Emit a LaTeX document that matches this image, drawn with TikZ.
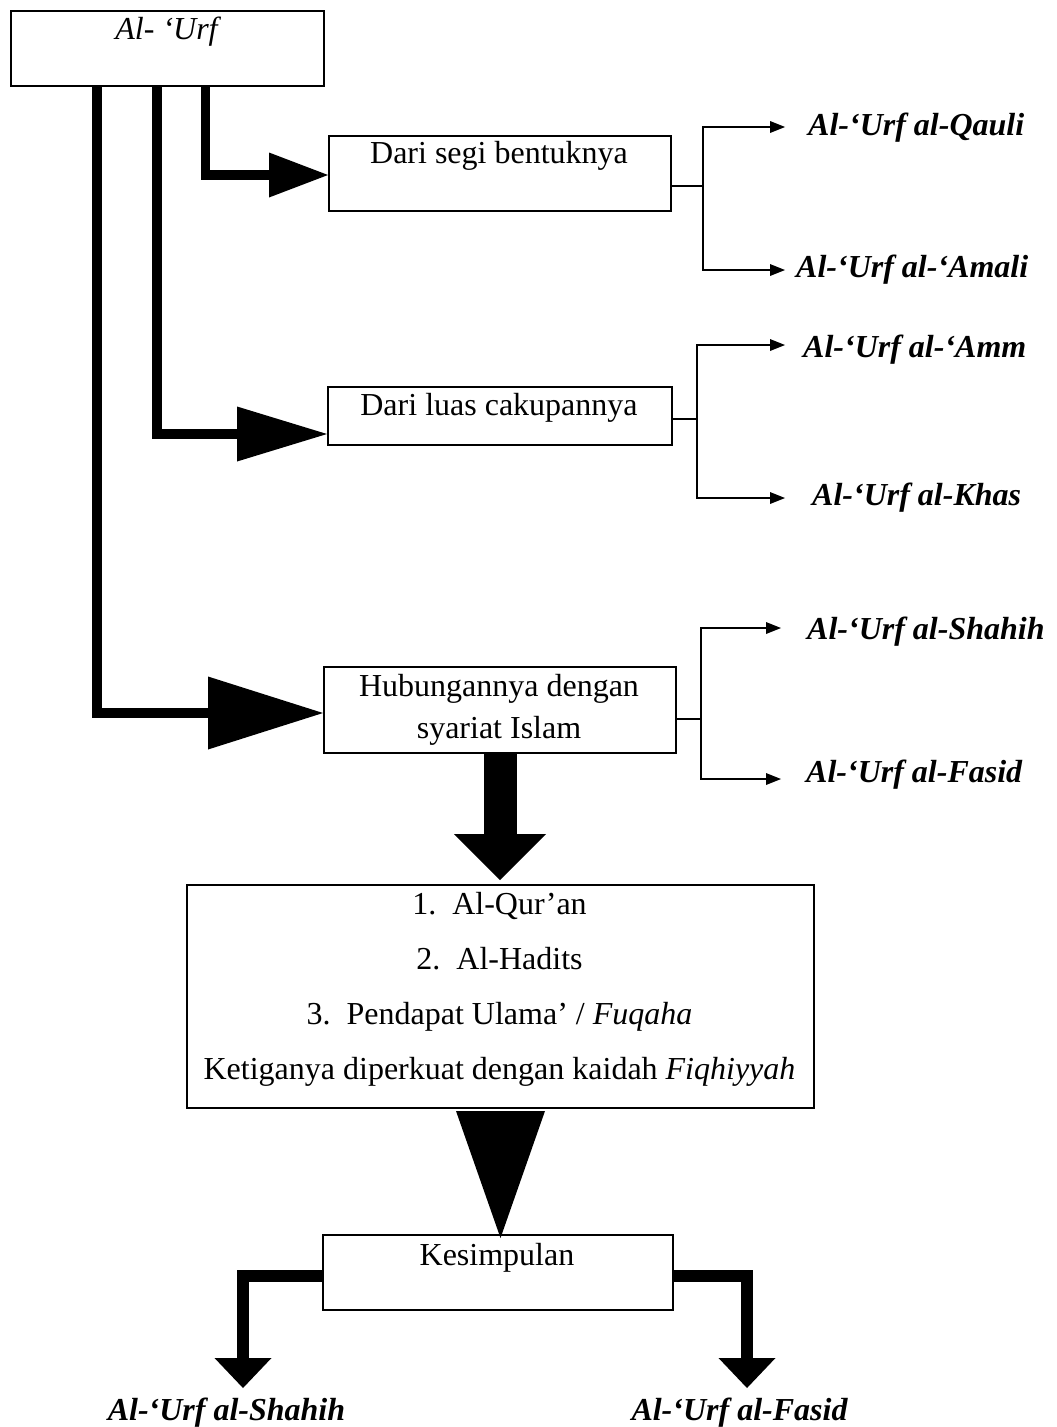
\documentclass[tikz,border=0pt]{standalone}
\usepackage{fontspec}
\setmainfont{Liberation Serif}
\usetikzlibrary{arrows.meta}
\begin{document}
\begin{tikzpicture}[x=1pt,y=-1pt,
  box/.style={draw, line width=2pt, inner sep=0pt, anchor=north west},
  txt/.style={font=\fontsize{32}{38}\selectfont, inner sep=0pt, anchor=base},
  lab/.style={font=\fontsize{32}{38}\selectfont\bfseries\itshape, inner sep=0pt, anchor=base west},
  thinL/.style={line width=2pt},
  bothtips/.style={{Triangle[length=15pt,width=12pt,line width=0pt]}-{Triangle[length=15pt,width=12pt,line width=0pt]}},
  thickL/.style={line width=9.5pt}]
\useasboundingbox (0,0) rectangle (1057,1427);

% boxes
\node[box, minimum width=313pt, minimum height=75pt] (urf) at (10,10) {};
\node[txt] (urft) at (166.5,39) {\itshape Al- ‘Urf};
\node[box, minimum width=342pt, minimum height=75pt] (seg) at (328,135) {};
\node[txt] (segt) at (499,163) {Dari segi bentuknya};
\node[box, minimum width=344pt, minimum height=58pt] (luas) at (327,386) {};
\node[txt] (luast) at (499,415) {Dari luas cakupannya};
\node[box, minimum width=352pt, minimum height=86pt] (hub) at (323,666) {};
\node[txt] (hubt1) at (499,696) {Hubungannya dengan};
\node[txt] (hubt2) at (499,738) {syariat Islam};
\node[box, minimum width=627pt, minimum height=223pt] (big) at (186,884) {};
\node[txt] (bigt1) at (499.5,914) {1.\hspace{0.5em}Al-Qur’an};
\node[txt] (bigt2) at (499.5,969) {2.\hspace{0.5em}Al-Hadits};
\node[txt] (bigt3) at (499.5,1024) {3.\hspace{0.5em}Pendapat Ulama’ / \textit{Fuqaha}};
\node[txt] (bigt4) at (499.5,1079) {Ketiganya diperkuat dengan kaidah \textit{Fiqhiyyah}};
\node[box, minimum width=350pt, minimum height=75pt] (kes) at (322,1234) {};
\node[txt] (kest) at (497,1265) {Kesimpulan};

% thick connectors from Al-'Urf
\coordinate (x1) at (97,0);
\coordinate (x2) at (157,0);
\coordinate (x3) at (205.5,0);
\draw[thickL, -{Triangle[length=115pt,width=73pt,line width=0pt]}] (urf.south -| x1) |- ([yshift=-3pt]hub.west);
\draw[thickL, -{Triangle[length=90pt,width=55pt,line width=0pt]}] (urf.south -| x2) |- ([yshift=-18pt]luas.west);
\draw[thickL, -{Triangle[length=59pt,width=45pt,line width=0pt]}] (urf.south -| x3) |- ([yshift=-1.5pt]seg.west);

% hub -> big
\draw[line width=33pt, -{Triangle[length=46pt,width=92pt,line width=0pt]}] (hub.south) -- ([yshift=4pt]big.north -| hub.south);
% big -> kes
\fill ([xshift=-44.5pt,yshift=-2pt]big.south) -- ([xshift=44.5pt,yshift=-2pt]big.south) -- ([yshift=-4pt]kes.north -| big.south) -- cycle;

% kes side arrows
\coordinate (x4) at (243,0);
\coordinate (x5) at (747,0);
\coordinate (ybot) at (0,1388);
\draw[line width=12.5pt, -{Triangle[length=30pt,width=57pt,line width=0pt]}] ([yshift=-3.5pt]kes.west) -| (x4 |- ybot);
\draw[line width=12.5pt, -{Triangle[length=30pt,width=57pt,line width=0pt]}] ([yshift=-3.5pt]kes.east) -| (x5 |- ybot);
\node[lab, anchor=base] (b1) at (226.5,1420) {Al-‘Urf al-Shahih};
\node[lab, anchor=base] (b2) at (739.5,1420) {Al-‘Urf al-Fasid};

% group 1
\coordinate (g1v) at (703,0);
\coordinate (g1a) at (785,127);
\coordinate (g1b) at (785,270);
\draw[thinL] ([yshift=-12.5pt]seg.east) -- ([yshift=-12.5pt]seg.east -| g1v);
\draw[thinL, bothtips] (g1a) -- (g1a -| g1v) -- (g1b -| g1v) -- (g1b);
\node[lab] (q1) at (808,135) {Al-‘Urf al-Qauli};
\node[lab] (q2) at (796,277) {Al-‘Urf al-‘Amali};

% group 2
\coordinate (g2v) at (697,0);
\coordinate (g2a) at (785,345);
\coordinate (g2b) at (785,498);
\draw[thinL] ([yshift=-3pt]luas.east) -- ([yshift=-3pt]luas.east -| g2v);
\draw[thinL, bothtips] (g2a) -- (g2a -| g2v) -- (g2b -| g2v) -- (g2b);
\node[lab] (c1) at (803,357) {Al-‘Urf al-‘Amm};
\node[lab] (c2) at (812,505) {Al-‘Urf al-Khas};

% group 3
\coordinate (g3v) at (701,0);
\coordinate (g3a) at (781,628);
\coordinate (g3b) at (781,779);
\draw[thinL] ([yshift=-9pt]hub.east) -- ([yshift=-9pt]hub.east -| g3v);
\draw[thinL, bothtips] (g3a) -- (g3a -| g3v) -- (g3b -| g3v) -- (g3b);
\node[lab] (h1) at (807,639) {Al-‘Urf al-Shahih};
\node[lab] (h2) at (806,782) {Al-‘Urf al-Fasid};
\end{tikzpicture}
\end{document}
